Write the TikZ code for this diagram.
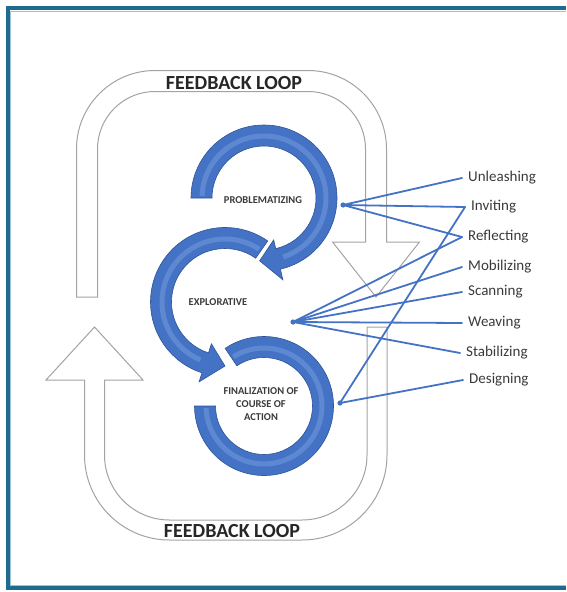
\documentclass[tikz,border=0pt]{standalone}
\usepackage{fontspec}
\setmainfont{Carlito}
\usepackage{xcolor}
\usetikzlibrary{positioning,calc}
\definecolor{framecol}{HTML}{1F6B8E}
\definecolor{framelight}{HTML}{9CC3D9}
\definecolor{loopgray}{HTML}{A3A3A3}
\definecolor{ringblue}{HTML}{4472C4}
\definecolor{ringdark}{HTML}{2F5597}
\definecolor{ringlight}{HTML}{8FB2EE}
\definecolor{labelgray}{HTML}{3A3A3A}
\definecolor{fbgray}{HTML}{262626}
\tikzset{
  loopline/.style={draw=loopgray, line width=1pt, fill=white, line join=miter},
  ring/.style={fill=ringblue, draw=ringdark, line width=0.6pt},
  ringshine/.style={draw=ringlight, line width=5pt, opacity=0.35},
  ringtext/.style={font=\bfseries\fontsize{10.5}{13}\selectfont, text=labelgray, align=center, inner sep=0pt},
  fbtext/.style={font=\bfseries\fontsize{20}{24}\selectfont, text=fbgray, inner sep=0pt},
  linktext/.style={font=\fontsize{15}{18}\selectfont, text=labelgray, anchor=west, inner xsep=6pt, inner ysep=0pt},
  link/.style={draw=ringblue, line width=1.8pt, line cap=round},
}
\begin{document}
\begin{tikzpicture}[x=1pt, y=-1pt]
    \useasboundingbox (0,0) rectangle (566,592);
    % Frame
    \draw[framecol, line width=4pt] (566,8) -- (7.5,8) -- (7.5,588) -- (566,588);
    \draw[framelight, line width=0.8pt] (566,11) -- (10.5,11) -- (10.5,585) -- (566,585);

    % Feedback loops
    \draw[loopline] (76.5,297) -- (76.5,149) arc[start angle=180, end angle=270, radius=78.5]
        -- (308,70.5) arc[start angle=270, end angle=360, radius=78.5]
        -- (386.5,242) -- (419.5,242) -- (376,297) -- (332.5,242) -- (365.5,242)
        -- (365.5,149) arc[start angle=360, end angle=270, radius=57.5]
        -- (155,91.5) arc[start angle=270, end angle=180, radius=57.5]
        -- (97.5,297) -- cycle;
    \draw[loopline] (84.5,380) -- (84.5,455) arc[start angle=180, end angle=90, radius=85]
        -- (302,540) arc[start angle=90, end angle=0, radius=85]
        -- (387,327) -- (367,327)
        -- (367,455) arc[start angle=0, end angle=90, radius=65]
        -- (169.5,520) arc[start angle=90, end angle=180, radius=65]
        -- (104.5,380) -- (143,380) -- (94.5,327) -- (46,380) -- cycle;
    \node[fbtext] (fbtop) at (234,83) {FEEDBACK LOOP};
    \node[fbtext] (fbbot) at (232,531) {FEEDBACK LOOP};

    % Circular arrows
    \begin{scope}[shift={(264,198)}]
        \draw[ring] (180:73) arc[start angle=180, end angle=437, radius=73]
            -- (437:84) -- (454:63) -- (437:43) -- (437:52)
            arc[start angle=437, end angle=180, radius=52] -- cycle;
        \draw[ringshine] (182:62) arc[start angle=182, end angle=432, radius=62];
    \end{scope}
    \begin{scope}[shift={(225,302)}]
        \draw[ring] (305:74.5) arc[start angle=305, end angle=108, radius=74.5]
            -- (108:84) -- (90:64) -- (108:44) -- (108:53.5)
            arc[start angle=108, end angle=305, radius=53.5] -- cycle;
        \draw[ringshine] (303:63) arc[start angle=303, end angle=113, radius=63];
    \end{scope}
    \begin{scope}[shift={(264,406)}]
        \draw[ring] (236:69.5) arc[start angle=236, end angle=540, radius=69.5]
            -- (540:48.5) arc[start angle=540, end angle=236, radius=48.5] -- cycle;
        \draw[ringshine] (238:58) arc[start angle=238, end angle=538, radius=58];
    \end{scope}
    \node[ringtext] (prob) at (263,200) {PROBLEMATIZING};
    \node[ringtext] (expl) at (218,302) {EXPLORATIVE};
    \node[ringtext] (fin) at (261,404) {FINALIZATION OF\\COURSE OF\\ACTION};

    % Activities
    \coordinate (hubP) at (343,205);
    \coordinate (hubE) at (293,322);
    \coordinate (hubF) at (340,403);
    \node[linktext] (unl) at (462,178) {Unleashing};
    \node[linktext] (inv) at (465,207) {Inviting};
    \node[linktext] (refl) at (462,237) {Reflecting};
    \node[linktext] (mob) at (462,267) {Mobilizing};
    \node[linktext] (scan) at (462,292) {Scanning};
    \node[linktext] (weav) at (462,323) {Weaving};
    \node[linktext] (stab) at (460,353) {Stabilizing};
    \node[linktext] (des) at (463,380) {Designing};

    \foreach \t in {unl,inv,refl} \draw[link] (hubP) -- (\t.west);
    \foreach \t in {refl,mob,scan,weav,stab} \draw[link] (hubE) -- (\t.west);
    \foreach \t in {inv,des} \draw[link] (hubF) -- (\t.west);
    \foreach \h in {hubP,hubE,hubF} \fill[ringblue] (\h) circle (2.6);
\end{tikzpicture}
\end{document}
